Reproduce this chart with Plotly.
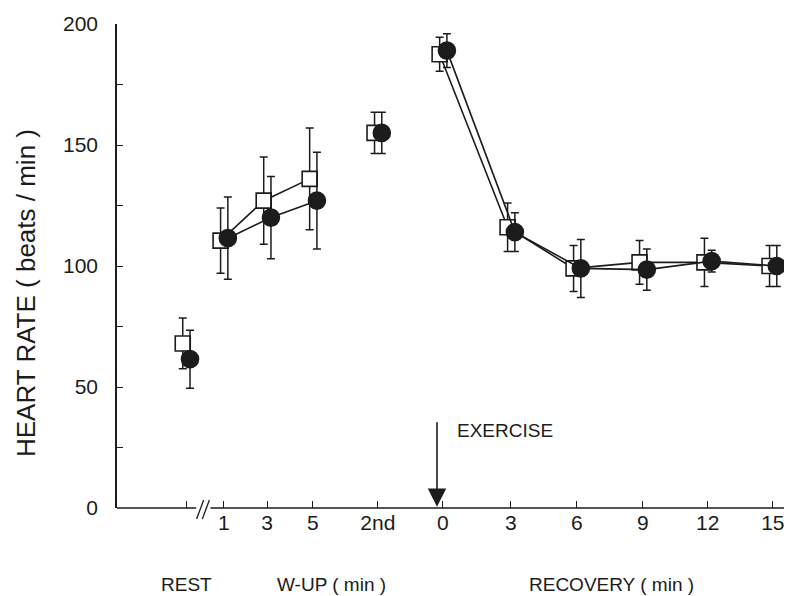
import plotly.graph_objects as go

# ---- data ----
phases = ["REST", "W1", "W3", "W5", "2nd", "R0", "R3", "R6", "R9", "R12", "R15"]
positions = [3.14, 4.86, 6.82, 8.91, 11.86, 14.82, 17.91, 20.91, 23.91, 26.86, 29.82]
tick_labels = ["", "1", "3", "5", "2nd", "0", "3", "6", "9", "12", "15"]

open_mean = [68, 110.5, 127, 136, 155, 187.5, 116, 99, 101.5, 101.5, 100]
open_err = [10.5, 13.5, 18, 21, 8.5, 7, 10, 9.5, 9, 10, 8.5]
filled_mean = [61.5, 111.5, 120, 127, 155, 189, 114, 99, 98.5, 102, 100]
filled_err = [12, 17, 17, 20, 8.5, 7, 8, 12, 8.5, 4.5, 8.5]

# connected groups of points (indices)
groups = [[0], [1, 2, 3], [4], [5, 6, 7, 8, 9, 10]]

XMIN, XMAX = 0.0, 30.6
FONT = "Liberation Sans, Arial, Helvetica, sans-serif"
INK = "#1c1c1c"

open_x = [p - 0.15 for p in positions]
filled_x = [p + 0.18 for p in positions]

fig = go.Figure()


def add_series(xs, ys, errs, symbol, fill, size):
    for g in groups:
        if len(g) > 1:
            fig.add_trace(go.Scatter(
                x=[xs[i] for i in g], y=[ys[i] for i in g], mode="lines",
                line=dict(color=INK, width=1.6), hoverinfo="skip", showlegend=False))
    fig.add_trace(go.Scatter(
        x=xs, y=ys, mode="markers",
        marker=dict(symbol=symbol, size=size, color=fill,
                    line=dict(color=INK, width=1.6)),
        error_y=dict(type="data", array=errs, visible=True, color=INK,
                     thickness=1.5, width=4),
        showlegend=False, cliponaxis=False))


add_series(open_x, open_mean, open_err, "square", "white", 15)
add_series(filled_x, filled_mean, filled_err, "circle", INK, 17)


def xp(pos):
    return (pos - XMIN) / (XMAX - XMIN)


def yp(px):
    return (508 - px) / 484.0


break_pos = 3.9
shapes = [
    # x axis line with break
    dict(type="line", xref="paper", yref="paper", x0=0, x1=xp(break_pos - 0.3),
         y0=0, y1=0, line=dict(color=INK, width=1.5)),
    dict(type="line", xref="paper", yref="paper", x0=xp(break_pos + 0.35), x1=1,
         y0=0, y1=0, line=dict(color=INK, width=1.5)),
    # break marks //
    dict(type="line", xref="paper", yref="paper",
         x0=xp(break_pos - 0.28), x1=xp(break_pos + 0.04), y0=yp(519), y1=yp(500),
         line=dict(color=INK, width=1.3)),
    dict(type="line", xref="paper", yref="paper",
         x0=xp(break_pos - 0.02), x1=xp(break_pos + 0.30), y0=yp(519), y1=yp(500),
         line=dict(color=INK, width=1.3)),
]

annotations = [
    dict(x=0, y=yp(293), xref="paper", yref="paper", xshift=-91,
         text="HEART RATE ( beats / min )", textangle=-90, showarrow=False,
         font=dict(family=FONT, size=26, color=INK), xanchor="center", yanchor="middle"),
    dict(x=positions[0], y=yp(584), xref="x", yref="paper", text="REST", showarrow=False,
         font=dict(family=FONT, size=19, color=INK), xanchor="center", yanchor="middle"),
    dict(x=9.73, y=yp(584), xref="x", yref="paper", text="W-UP ( min )", showarrow=False,
         font=dict(family=FONT, size=19, color=INK), xanchor="center", yanchor="middle"),
    dict(x=22.48, y=yp(584), xref="x", yref="paper", text="RECOVERY ( min )", showarrow=False,
         font=dict(family=FONT, size=19, color=INK), xanchor="center", yanchor="middle"),
    dict(x=15.36, y=32, xref="x", yref="y", text="EXERCISE", showarrow=False,
         font=dict(family=FONT, size=19, color=INK), xanchor="left", yanchor="middle"),
    dict(x=14.55, y=0.5, xref="x", yref="y", text="", showarrow=True,
         ax=0, ay=-86, arrowhead=2, arrowsize=2.3, arrowwidth=1.6, arrowcolor=INK,
         standoff=0),
]

# page is drawn with an 8px body margin, so the figure is 8px smaller and offset
fig.update_layout(
    width=784, height=588,
    margin=dict(l=109, r=2, t=16, b=88),
    plot_bgcolor="white", paper_bgcolor="white",
    shapes=shapes, annotations=annotations,
    xaxis=dict(range=[XMIN, XMAX], tickmode="array", tickvals=positions,
               ticktext=tick_labels, ticks="inside", ticklen=7, tickwidth=1.3,
               tickcolor=INK, showline=False, showgrid=False, zeroline=False,
               tickfont=dict(family=FONT, size=21, color=INK)),
    yaxis=dict(range=[0, 200], tickmode="array",
               tickvals=[0, 25, 50, 75, 100, 125, 150, 175, 200],
               ticktext=["0", "", "50", "", "100", "", "150", "", "200"],
               ticks="inside", ticklen=6, tickwidth=1.3, tickcolor=INK,
               showline=True, linecolor=INK, linewidth=1.5,
               showgrid=False, zeroline=False, ticklabelstandoff=13,
               tickfont=dict(family=FONT, size=21, color=INK)),
)

fig.write_html("out.html")
